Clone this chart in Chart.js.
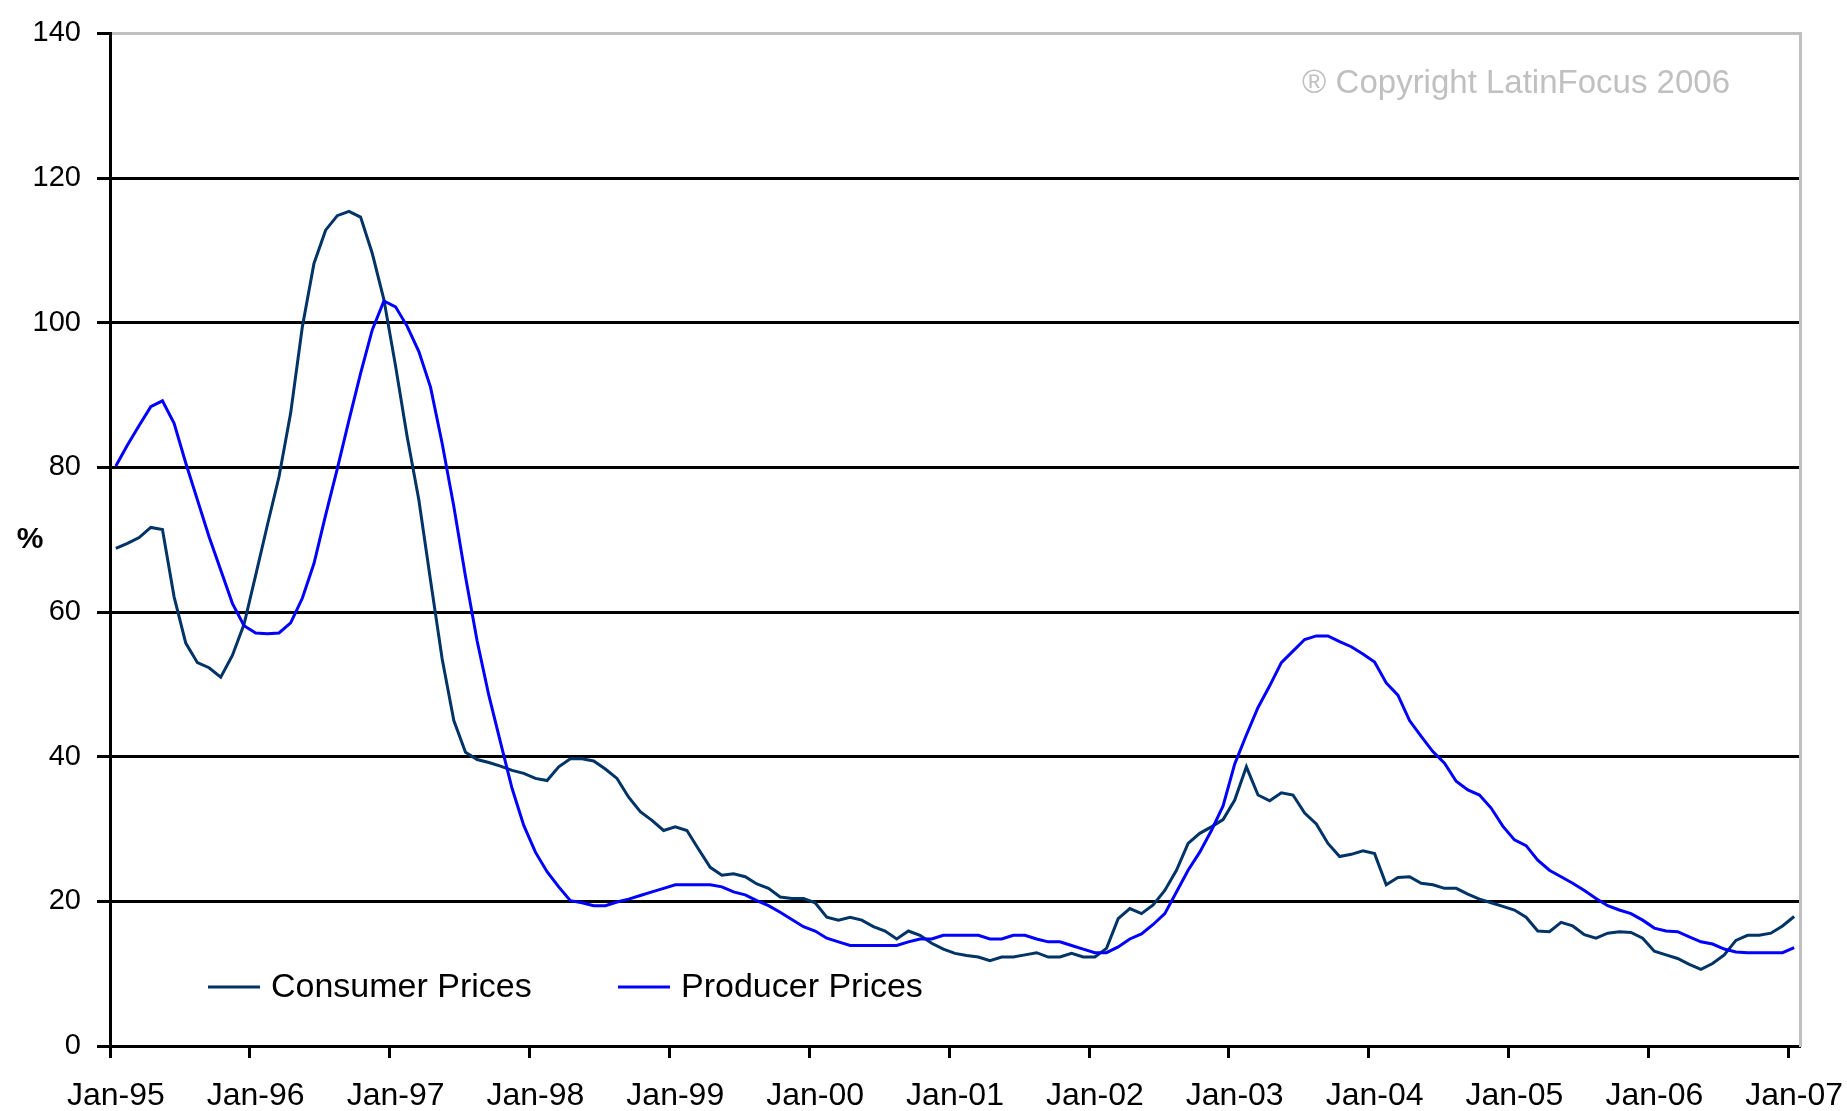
<!DOCTYPE html>
<html>
<head>
<meta charset="utf-8">
<title>Consumer and Producer Prices</title>
<script src="https://cdn.jsdelivr.net/npm/chart.js@4.4.3/dist/chart.umd.min.js"></script>
<style>
  html, body { margin: 0; padding: 0; background: #fff; }
  #wrap { width: 1847px; height: 1111px; }
</style>
</head>
<body>
<div id="wrap"><canvas id="chart" width="1847" height="1111"></canvas></div>
<script>
const FONT = '"Liberation Sans", Arial, sans-serif';

const monthNames = ['Jan', 'Feb', 'Mar', 'Apr', 'May', 'Jun', 'Jul', 'Aug', 'Sep', 'Oct', 'Nov', 'Dec'];
const yearLabels = ['95', '96', '97', '98', '99', '00', '01', '02', '03', '04', '05', '06', '07'];
const yTicks = [0, 20, 40, 60, 80, 100, 120, 140];

// monthly categories, Jan-95 .. Jan-07
const categories = [];
yearLabels.forEach((yy, k) => {
  monthNames.forEach((m, j) => {
    if (k < yearLabels.length - 1 || j === 0) categories.push(m + '-' + yy);
  });
});

const consumerPrices = [
  68.8, 69.5, 70.3, 71.7, 71.4, 62.1, 55.7, 53.0, 52.3, 51.0, 54.0, 58.3,
  65.1, 72.0, 78.7, 87.5, 99.4, 108.2, 112.8, 114.8, 115.4, 114.6, 109.6, 103.2,
  94.0, 84.2, 75.5, 64.4, 53.5, 45.0, 40.6, 39.6, 39.2, 38.7, 38.1, 37.7,
  37.0, 36.7, 38.6, 39.7, 39.7, 39.4, 38.3, 37.0, 34.4, 32.4, 31.2, 29.8,
  30.3, 29.8, 27.2, 24.7, 23.6, 23.8, 23.4, 22.4, 21.8, 20.6, 20.4, 20.4,
  19.8, 17.8, 17.4, 17.8, 17.4, 16.5, 15.9, 14.8, 15.9, 15.3, 14.2, 13.4,
  12.8, 12.5, 12.3, 11.8, 12.3, 12.3, 12.6, 12.9, 12.3, 12.3, 12.8, 12.3,
  12.3, 13.5, 17.6, 19.0, 18.3, 19.5, 21.5, 24.3, 28.0, 29.4, 30.3, 31.3,
  34.0, 38.6, 34.7, 33.9, 35.0, 34.7, 32.2, 30.7, 28.0, 26.2, 26.5, 27.0,
  26.6, 22.3, 23.3, 23.4, 22.5, 22.3, 21.8, 21.8, 21.0, 20.3, 19.8, 19.3,
  18.8, 17.8, 15.9, 15.8, 17.1, 16.6, 15.4, 14.9, 15.6, 15.8, 15.7, 14.9,
  13.1, 12.6, 12.1, 11.3, 10.6, 11.4, 12.6, 14.6, 15.3, 15.3, 15.6, 16.6,
  17.9
];

const producerPrices = [
  80.2, 83.1, 85.8, 88.4, 89.2, 86.1, 80.6, 75.5, 70.4, 65.8, 61.2, 58.1,
  57.1, 57.0, 57.1, 58.5, 61.9, 66.7, 73.4, 79.8, 86.5, 93.0, 99.0, 103.0,
  102.2, 99.5, 96.0, 91.1, 83.3, 74.6, 64.9, 56.0, 48.5, 42.0, 35.6, 30.5,
  26.8, 24.1, 22.0, 20.1, 19.8, 19.4, 19.4, 19.9, 20.3, 20.8, 21.3, 21.8,
  22.3, 22.3, 22.3, 22.3, 22.0, 21.3, 20.9, 20.1, 19.4, 18.5, 17.5, 16.5,
  15.9, 14.9, 14.4, 13.9, 13.9, 13.9, 13.9, 13.9, 14.4, 14.8, 14.8, 15.3,
  15.3, 15.3, 15.3, 14.8, 14.8, 15.3, 15.3, 14.8, 14.4, 14.4, 13.9, 13.4,
  12.9, 12.9, 13.7, 14.8, 15.5, 16.8, 18.3, 21.3, 24.3, 26.8, 29.8, 33.2,
  39.0, 43.0, 46.8, 49.8, 53.0, 54.6, 56.2, 56.7, 56.7, 55.9, 55.2, 54.2,
  53.1, 50.2, 48.5, 45.0, 42.8, 40.7, 39.1, 36.6, 35.4, 34.7, 32.9, 30.4,
  28.5, 27.7, 25.7, 24.3, 23.4, 22.5, 21.5, 20.4, 19.4, 18.8, 18.3, 17.4,
  16.3, 15.9, 15.8, 15.1, 14.4, 14.1, 13.4, 13.0, 12.9, 12.9, 12.9, 12.9,
  13.6
];

const seriesNames = ['Consumer Prices', 'Producer Prices'];
const unitLabel = '%';
const copyrightText = '\u00AE Copyright LatinFocus 2006';

// custom in-plot legend, unit label and watermark
const decorations = {
  id: 'decorations',
  afterDraw(chart) {
    const { ctx, chartArea: a } = chart;
    ctx.save();

    ctx.fillStyle = '#000';
    ctx.font = 'bold 30px ' + FONT;
    ctx.textAlign = 'center';
    ctx.textBaseline = 'middle';
    ctx.fillText(unitLabel, 30, (a.top + a.bottom) / 2);

    ctx.fillStyle = '#c0c0c0';
    ctx.font = '33px ' + FONT;
    ctx.textAlign = 'right';
    ctx.fillText(copyrightText, a.right - 70, a.top + 51);

    const legendX = [a.left + 98, a.left + 508];
    const legendY = a.bottom - 59;
    ctx.font = '34px ' + FONT;
    ctx.textAlign = 'left';
    chart.data.datasets.forEach((ds, i) => {
      ctx.strokeStyle = ds.borderColor;
      ctx.lineWidth = 3;
      ctx.beginPath();
      ctx.moveTo(legendX[i], legendY);
      ctx.lineTo(legendX[i] + 52, legendY);
      ctx.stroke();
      ctx.fillStyle = '#000';
      ctx.fillText(ds.label, legendX[i] + 63, legendY + 1);
    });
    ctx.restore();
  }
};

const tickOnYear = (c) => (c.index !== undefined && c.index % 12 === 0) ? '#000' : 'rgba(0,0,0,0)';

new Chart(document.getElementById('chart'), {
  type: 'line',
  data: {
    labels: categories,
    datasets: [
      {
        label: seriesNames[0],
        data: consumerPrices,
        borderColor: '#003366',
        borderWidth: 3,
        pointRadius: 0,
        tension: 0,
        order: 1
      },
      {
        label: seriesNames[1],
        data: producerPrices,
        borderColor: '#0000ff',
        borderWidth: 3,
        pointRadius: 0,
        tension: 0,
        order: 0
      }
    ]
  },
  options: {
    responsive: false,
    animation: false,
    devicePixelRatio: 1,
    layout: { padding: { top: 32, left: 0, right: 0, bottom: 0 } },
    plugins: {
      legend: { display: false },
      tooltip: { enabled: false }
    },
    scales: {
      x: {
        type: 'category',
        offset: true,
        ticks: {
          autoSkip: false,
          maxRotation: 0,
          minRotation: 0,
          padding: 19,
          color: '#000',
          font: { family: FONT, size: 32 },
          callback: (v, i) => (i % 12 === 0 ? categories[i] : '')
        },
        grid: {
          offset: true,
          drawOnChartArea: false,
          tickLength: 12,
          tickWidth: 3,
          color: tickOnYear,
          tickColor: tickOnYear
        },
        border: { color: '#000', width: 3 },
        afterFit: (s) => {
          s.height = 65;
          s.paddingLeft = 0;
          s.paddingRight = 0;
        }
      },
      y: {
        min: 0,
        max: 140,
        afterBuildTicks: (s) => { s.ticks = yTicks.map((v) => ({ value: v })); },
        ticks: {
          padding: 16,
          color: '#000',
          font: { family: FONT, size: 29 }
        },
        grid: {
          color: (c) => (c.tick && c.tick.value === 140 ? '#c0c0c0' : '#000'),
          lineWidth: 3,
          tickLength: 13,
          tickWidth: 3,
          tickColor: '#000'
        },
        border: { color: '#000', width: 3 },
        afterFit: (s) => { s.width = 110; }
      },
      y2: {
        position: 'right',
        min: 0,
        max: 140,
        ticks: { display: false },
        grid: { drawOnChartArea: false, drawTicks: false },
        border: { color: '#c0c0c0', width: 3 },
        afterFit: (s) => { s.width = 47; }
      }
    }
  },
  plugins: [decorations]
});
</script>
</body>
</html>
